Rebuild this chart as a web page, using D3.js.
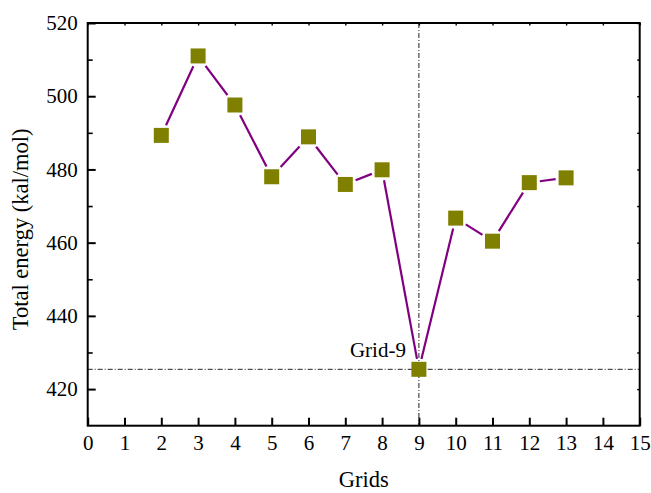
<!DOCTYPE html>
<html>
<head>
<meta charset="utf-8">
<script src="https://cdn.jsdelivr.net/npm/d3@7/dist/d3.min.js"></script>
<style>
  html, body { margin: 0; padding: 0; background: #fff; }
  svg { display: block; }
  svg text { font-family: "Liberation Serif", "Times New Roman", serif !important; fill: #000; }
</style>
</head>
<body>
<svg id="chart" width="651" height="493" font-family="Liberation Serif"></svg>
<script>
// ---- data ----
const grids = [2, 3, 4, 5, 6, 7, 8, 9, 10, 11, 12, 13];
const energy = [489.3, 511.0, 497.6, 478.0, 488.9, 475.9, 479.9, 425.4, 466.7, 460.4, 476.4, 477.7];
const xTicks = [0, 1, 2, 3, 4, 5, 6, 7, 8, 9, 10, 11, 12, 13, 14, 15];
const yTicks = [420, 440, 460, 480, 500, 520];
const yMinorTicks = [430, 450, 470, 490, 510];
const xTitle = "Grids";
const yTitle = "Total energy (kal/mol)";
const markLabel = "Grid-9";

// ---- layout ----
const svg = d3.select("#chart");
const L = 87.7, R = 639.7, T = 23, B = 425.7;
const x = d3.scaleLinear().domain([0, 15]).range([L, R]);
const y = d3.scaleLinear().domain([410, 520]).range([B, T]);

const tickFont = "21px";
const serif = "Liberation Serif";

// reference lines (dash-dot) at minimum point
const minIdx = energy.indexOf(d3.min(energy));
const refG = svg.append("g").attr("fill", "none").attr("stroke", "#222").attr("stroke-width", 1)
  .attr("stroke-dasharray", "5,2,1,2");
refG.append("line").attr("x1", x(0)).attr("x2", x(15))
  .attr("y1", y(energy[minIdx])).attr("y2", y(energy[minIdx]));
refG.append("line").attr("x1", x(grids[minIdx])).attr("x2", x(grids[minIdx]))
  .attr("y1", y(520)).attr("y2", y(410));

// connecting line segments with gaps near markers
const half = 7.5, gap = 3;
const pts = grids.map((g, i) => [x(g), y(energy[i])]);
const segG = svg.append("g").attr("stroke", "#800080").attr("stroke-width", 2.2)
  .attr("stroke-linecap", "butt");
for (let i = 0; i < pts.length - 1; i++) {
  const [x1, y1] = pts[i], [x2, y2] = pts[i + 1];
  const dx = x2 - x1, dy = y2 - y1, len = Math.hypot(dx, dy);
  const ux = dx / len, uy = dy / len;
  const t = half / Math.max(Math.abs(ux), Math.abs(uy)) + gap;
  if (len > 2 * t) {
    segG.append("line")
      .attr("x1", x1 + ux * t).attr("y1", y1 + uy * t)
      .attr("x2", x2 - ux * t).attr("y2", y2 - uy * t);
  }
}

// markers
svg.append("g").selectAll("rect").data(grids).join("rect")
  .attr("x", (d) => x(d) - half)
  .attr("y", (d, i) => y(energy[i]) - half)
  .attr("width", 2 * half).attr("height", 2 * half)
  .attr("fill", "#808000");

// axes
function styleAxis(g, w) {
  g.attr("font-family", serif).attr("font-size", tickFont);
  g.select(".domain").remove();
  g.selectAll(".tick line").attr("stroke", "#000").attr("stroke-width", w);
  g.selectAll("text").attr("font-family", serif).style("font-size", tickFont);
}
const xAxis = svg.append("g").attr("transform", `translate(0,${B})`)
  .call(d3.axisBottom(x).tickValues(xTicks).tickFormat(d3.format("d")).tickSizeInner(-8).tickSizeOuter(0).tickPadding(9.4));
styleAxis(xAxis, 2);
const yAxis = svg.append("g").attr("transform", `translate(${L},0)`)
  .call(d3.axisLeft(y).tickValues(yTicks).tickFormat(d3.format("d")).tickSizeInner(-8).tickSizeOuter(0).tickPadding(10));
styleAxis(yAxis, 2);
const yMinor = svg.append("g").attr("transform", `translate(${L},0)`)
  .call(d3.axisLeft(y).tickValues(yMinorTicks).tickFormat("").tickSizeInner(-5).tickSizeOuter(0));
styleAxis(yMinor, 1.6);
const xTop = svg.append("g").attr("transform", `translate(0,${T})`)
  .call(d3.axisTop(x).tickValues(xTicks).tickFormat("").tickSizeInner(-2.5).tickSizeOuter(0));
styleAxis(xTop, 1.4);
const yRight = svg.append("g").attr("transform", `translate(${R},0)`)
  .call(d3.axisRight(y).tickValues(yTicks.concat(yMinorTicks)).tickFormat("").tickSizeInner(-2.5).tickSizeOuter(0));
styleAxis(yRight, 1.4);

// frame
svg.append("rect").attr("x", L).attr("y", T).attr("width", R - L).attr("height", B - T)
  .attr("fill", "none").attr("stroke", "#000").attr("stroke-width", 2);

// labels
svg.append("text").attr("x", (L + R) / 2).attr("y", 487).attr("text-anchor", "middle")
  .attr("font-family", serif).style("font-size", "22.5px").text(xTitle);
svg.append("text").attr("transform", `translate(28,${(T + B) / 2 + 5}) rotate(-90)`)
  .attr("text-anchor", "middle").attr("font-family", serif).style("font-size", "22.5px").text(yTitle);
svg.append("text").attr("x", x(grids[minIdx]) - 13).attr("y", y(energy[minIdx]) - 12)
  .attr("text-anchor", "end").attr("font-family", serif).style("font-size", "21px").text(markLabel);
</script>
</body>
</html>
